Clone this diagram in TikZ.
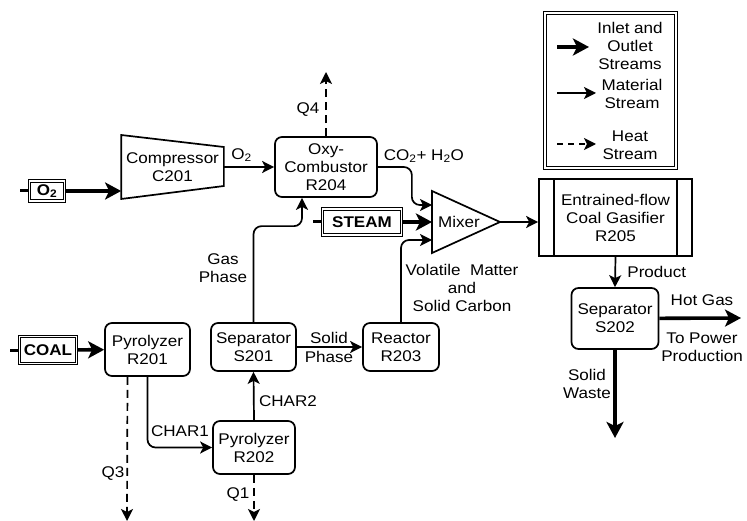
\documentclass[tikz,border=0pt]{standalone}
\usepackage{fontspec}
\setmainfont{Liberation Sans}[FakeStretch=1.1]
\usepackage{tikz}
\usetikzlibrary{arrows.meta,positioning}

\begin{document}
\begin{tikzpicture}[
      x=1pt, y=-1pt,
      font=\fontsize{15.5}{18}\selectfont,
      line width=1.7pt,
      unit/.style={draw, rounded corners=7pt, align=center, inner sep=1pt},
      feed/.style={draw, double, double distance=1.3pt, line width=1.1pt,
                   font=\fontsize{15.5}{18}\selectfont\bfseries, inner sep=0pt},
      lbl/.style={align=center, inner sep=0pt},
      stream/.style={-{Stealth[length=12pt, width=12pt, inset=3pt]},
                     line width=1.7pt, rounded corners=8pt},
      bulkstream/.style={-{Stealth[length=16pt, width=17pt, inset=4pt]},
                         line width=3.6pt},
      heatstream/.style={stream, dash pattern=on 8pt off 5pt}
    ]
    \useasboundingbox (0,0) rectangle (747,521);

    % feeds
    \node[feed, minimum width=35, minimum height=20] (o2) at (47,191) {O\textsubscript{2}};
    \node[feed, minimum width=57, minimum height=27] (coal) at (48,350) {COAL};
    \node[feed, minimum width=79, minimum height=26] (steam) at (362,222) {STEAM};
    \foreach \f in {o2, coal, steam}
      \draw[line width=3pt] (\f.west) -- ++(-9,0);

    % units
    \node[lbl, minimum width=101, minimum height=40] (comp) at (172.5,167) {Compressor\\C201};
    \draw ([yshift=32]comp.west) -- ([yshift=20]comp.east)
      -- ([yshift=-19]comp.east) -- ([yshift=-32]comp.west) -- cycle;
    \node[unit, minimum width=102, minimum height=60] (comb) at (326,167) {Oxy-\\Combustor\\R204};
    \node[lbl] (mix) at (459,222) {Mixer};
    \draw (432,191) -- (500,222) -- (432,253) -- cycle;
    \coordinate (mixin1) at (432,205);
    \coordinate (mixin2) at (432,222);
    \coordinate (mixin3) at (432,240);
    \coordinate (mixout) at (500,222);
    \node[draw, align=center, inner sep=0pt, minimum width=153, minimum height=77]
      (gasf) at (615.5,217.5) {Entrained-flow\\Coal Gasifier\\R205};
    \draw ([xshift=16]gasf.north west) -- ([xshift=16]gasf.south west);
    \draw ([xshift=-16]gasf.north east) -- ([xshift=-16]gasf.south east);
    \node[unit, minimum width=87, minimum height=61] (sep2) at (615,318.5) {Separator\\S202};
    \node[unit, minimum width=85, minimum height=53] (pyr1) at (147.5,349.5) {Pyrolyzer\\R201};
    \node[unit, minimum width=85, minimum height=48] (sep1) at (253.5,347) {Separator\\S201};
    \node[unit, minimum width=76, minimum height=48] (react) at (401,347) {Reactor\\R203};
    \node[unit, minimum width=82, minimum height=53] (pyr2) at (254,447.5) {Pyrolyzer\\R202};

    % free ends
    \coordinate (q4end) at (326,72);
    \coordinate (q3end) at (127,521);
    \coordinate (q1end) at (254,521);
    \coordinate (hotgas) at (741,318);
    \coordinate (waste) at (615,438);

    % inlet and outlet streams
    \draw[bulkstream] (o2) -- (o2 -| comp.west);
    \foreach \a/\b in {coal/pyr1, steam/mixin2, sep2/hotgas}
      \draw[bulkstream] (\a) -- (\b);
    \draw[bulkstream] (sep2.south) -- (waste);

    % material streams
    \draw[stream] (comp.east) -- (comb.west) node[pos=0.35, above=1pt] {O\textsubscript{2}};
    \draw[stream] (comb.east) -- ++(34,0) |- (mixin1);
    \draw[stream] (react.north) |- (mixin3);
    \draw[stream] (mixout) -- (mixout -| gasf.west);
    \draw[stream] (gasf.south) -- (sep2.north) node[midway, right=8pt] {Product};
    \draw[stream] (pyr1.south) |- (pyr2.west);
    \draw[stream] (pyr2.north) -- (sep1.south);
    \draw[stream] (sep1.east) -- (react.west);
    \draw[stream] (sep1.north) -- ++(0,-96) -| ([xshift=-24]comb.south);

    % heat streams
    \draw[heatstream] (comb.north) -- (q4end);
    \draw[heatstream] ([xshift=-20]pyr1.south) -- (q3end);
    \draw[heatstream] (pyr2.south) -- (q1end);

    % labels
    \node[lbl] (lq4) at (308,110) {Q4};
    \node[lbl, anchor=west] (lco2) at (383,156) {CO\textsubscript{2}+ H\textsubscript{2}O};
    \node[lbl] (lvol) at (462,288) {Volatile\ \ Matter\\and\\Solid Carbon};
    \node[lbl] (lgas) at (223,268) {Gas\\Phase};
    \node[lbl] (lsolid) at (329,338) {Solid};
    \node[lbl] (lphase) at (329,357) {Phase};
    \node[lbl] (lchar1) at (180,431) {CHAR1};
    \node[lbl] (lchar2) at (288,401) {CHAR2};
    \node[lbl] (lq3) at (113,474) {Q3};
    \node[lbl] (lq1) at (238,495) {Q1};
    \node[lbl] (lhot) at (702,300) {Hot Gas};
    \node[lbl] (lpower) at (702,347) {To Power\\Production};
    \node[lbl] (lwaste) at (587,384) {Solid\\Waste};

    % legend
    \node[draw, double, double distance=2pt, line width=1pt,
          minimum width=131, minimum height=155] (legend) at (610.5,90.5) {};
    \node[lbl] (leg1) at (630,46) {Inlet and\\Outlet\\Streams};
    \node[lbl] (leg2) at (632,94) {Material\\Stream};
    \node[lbl] (leg3) at (630,145) {Heat\\Stream};
    \coordinate (k1a) at (557,47);  \coordinate (k1b) at (589,47);
    \coordinate (k2a) at (557,93);  \coordinate (k2b) at (596,93);
    \coordinate (k3a) at (557,144); \coordinate (k3b) at (596,144);
    \draw[bulkstream] (k1a) -- (k1b);
    \draw[stream] (k2a) -- (k2b);
    \draw[heatstream, dash pattern=on 6pt off 5pt] (k3a) -- (k3b);
  \end{tikzpicture}
\end{document}
